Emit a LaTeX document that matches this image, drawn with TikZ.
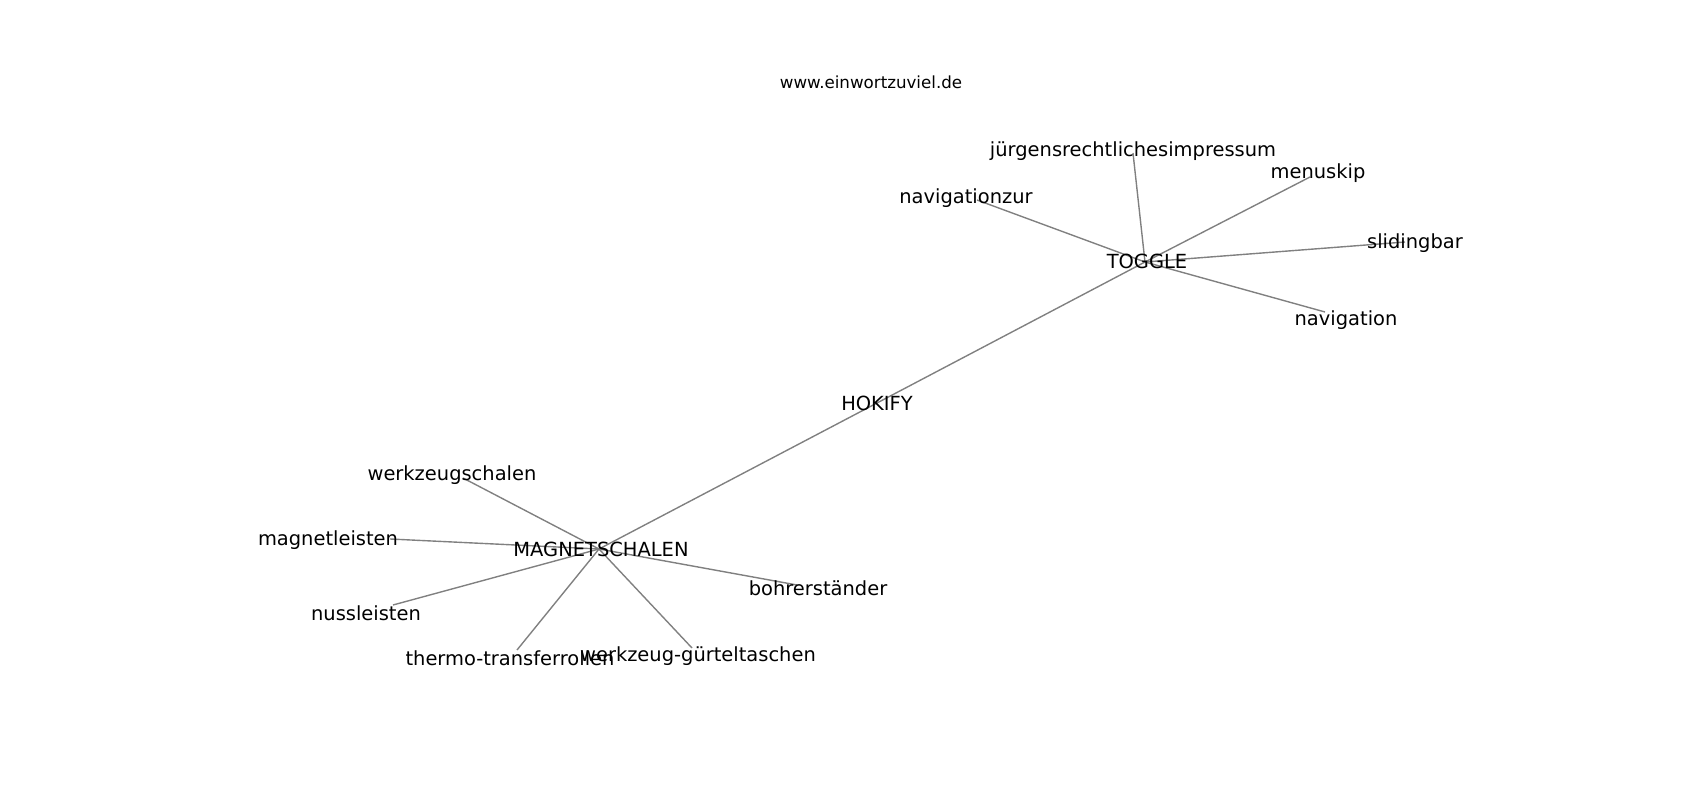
\documentclass[tikz,border=0pt]{standalone}
\usepackage{fontspec}
\setmainfont{DejaVu Sans}

\begin{document}
\begin{tikzpicture}[x=0.01in,y=-0.01in]
	\tikzstyle{word}=[inner sep=0pt,text height=10bp,text depth=3bp,yshift=-2.4bp,font=\fontsize{14bp}{16bp}\selectfont]
	\tikzstyle{edge}=[draw=black!50,line width=1bp]

	\useasboundingbox (0,0) rectangle (1700,800);

	% node positions
	\coordinate(pToggle) at (1145,262);
	\coordinate(pHokify) at (877,403);
	\coordinate(pMagnet) at (599,549);

	\coordinate(pJuergens) at (1133,153);
	\coordinate(pNavZur) at (977,200);
	\coordinate(pMenu) at (1310,177);
	\coordinate(pSliding) at (1405,242);
	\coordinate(pNav) at (1325,312);

	\coordinate(pWzSchalen) at (463,478);
	\coordinate(pMLeisten) at (390,539);
	\coordinate(pNuss) at (393,605);
	\coordinate(pThermo) at (517,650);
	\coordinate(pGuertel) at (692,648);
	\coordinate(pBohrer) at (797,585);

	% edges
	\draw[edge] (pToggle) -- (pHokify);
	\draw[edge] (pHokify) -- (pMagnet);

	\draw[edge] (pToggle) -- (pJuergens);
	\draw[edge] (pToggle) -- (pNavZur);
	\draw[edge] (pToggle) -- (pMenu);
	\draw[edge] (pToggle) -- (pSliding);
	\draw[edge] (pToggle) -- (pNav);

	\draw[edge] (pMagnet) -- (pWzSchalen);
	\draw[edge] (pMagnet) -- (pMLeisten);
	\draw[edge] (pMagnet) -- (pNuss);
	\draw[edge] (pMagnet) -- (pThermo);
	\draw[edge] (pMagnet) -- (pGuertel);
	\draw[edge] (pMagnet) -- (pBohrer);

	% labels
	\node[font=\fontsize{12bp}{14bp}\selectfont](title) at (871,82){www.einwortzuviel.de};

	\node[word](toggle) at (1147,260){TOGGLE};
	\node[word](hokify) at (877,402){HOKIFY};
	\node[word](magnet) at (601,548){MAGNETSCHALEN};

	\node[word](juergens) at (1133,148){jürgensrechtlichesimpressum};
	\node[word](navZur) at (966,195){navigationzur};
	\node[word](menu) at (1318,170){menuskip};
	\node[word](sliding) at (1415,240){slidingbar};
	\node[word](nav) at (1346,317){navigation};

	\node[word](wzSchalen) at (452,472){werkzeugschalen};
	\node[word](mLeisten) at (328,537){magnetleisten};
	\node[word](nuss) at (366,612){nussleisten};
	\node[word](thermo) at (510,657){thermo-transferrollen};
	\node[word](guertel) at (698,653){werkzeug-gürteltaschen};
	\node[word](bohrer) at (818,587){bohrerständer};

\end{tikzpicture}
\end{document}
